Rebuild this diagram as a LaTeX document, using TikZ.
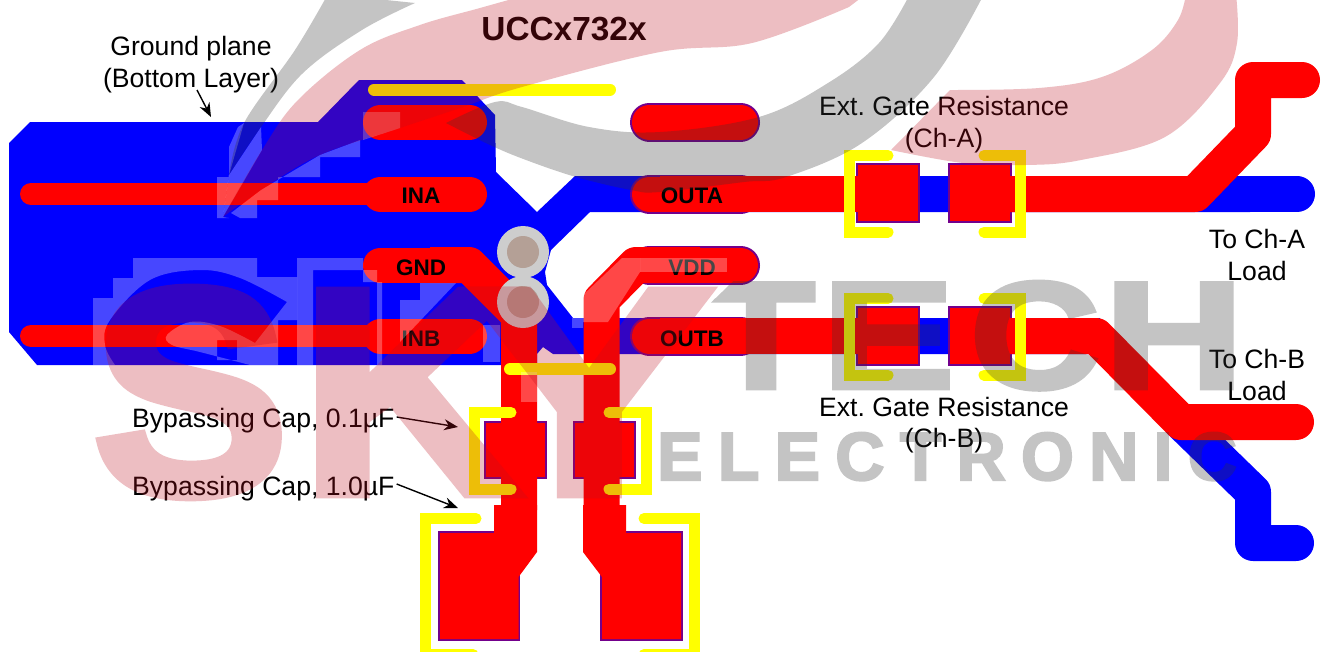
\documentclass[tikz,border=0pt]{standalone}
\usepackage{fontspec}
\setmainfont{Liberation Sans}
\newfontfamily\wmb[FakeBold=3]{Liberation Sans Bold}
\usetikzlibrary{arrows.meta}
\definecolor{cu}{RGB}{255,0,0}
\definecolor{gnd}{RGB}{0,0,255}
\definecolor{padedge}{RGB}{115,0,140}
\definecolor{silk}{RGB}{255,255,0}
\definecolor{wmpink}{RGB}{190,15,30}
\definecolor{wmgray}{RGB}{52,52,52}
\definecolor{viaring}{RGB}{205,205,205}
\definecolor{viahole}{RGB}{180,160,150}
\tikzset{
  lbl/.style={inner sep=0pt,anchor=base,text=black,font=\frenchspacing\fontsize{26.6}{32}\selectfont},
  pin/.style={inner sep=0pt,anchor=base,text=black,font=\fontsize{22.5}{26}\selectfont\bfseries},
  redtrace/.style={draw=cu,line width=36pt,line join=round,line cap=butt},
  bluetrace/.style={draw=gnd,line width=36pt,line join=round,line cap=round},
  roundtrace/.style={redtrace,line cap=round},
  padrect/.style={fill=cu,draw=padedge,line width=2pt},
  silkline/.style={draw=silk,line width=11pt,line cap=round,line join=miter},
  ledge/.style={-{Stealth[length=14pt,width=11pt]},line width=1.4pt,draw=black},
  halo/.style={fill=white,fill opacity=.28,even odd rule},
  wmp/.style={fill=wmpink,fill opacity=.27},
  wmg/.style={fill=wmgray,fill opacity=.29},
  wmletter/.style={inner sep=0pt,anchor=base west,transform shape},
}
\newcommand{\toppad}[1]{%
  \draw[line width=39pt,line cap=round,draw=padedge] (649.5,#1) -- (740.5,#1);
  \draw[line width=35pt,line cap=round,draw=cu] (649.5,#1) -- (740.5,#1);}
\newcommand{\lefttoppad}[1]{%
  \draw[line width=35pt,line cap=round,draw=cu] (380.5,#1) -- (469.5,#1);}
\begin{document}
\begin{tikzpicture}[x=1pt,y=-1pt]
\useasboundingbox (0,0) rectangle (1321,651);
\clip (0,0) rectangle (1321,651);
\fill[white] (0,0) rectangle (1321,651);
% ground plane (bottom layer)
\fill[gnd] (9,143) -- (30,122) -- (318,122) -- (359,80) -- (462,80) -- (495,115) -- (496,172)
  -- (537,212) -- (575,176) -- (1250,176) -- (1250,212) -- (590,212) -- (551,250) -- (545,272)
  -- (547,285) -- (573,318) -- (1100,318) -- (1100,354) -- (553,354) -- (543,347) -- (537,354)
  -- (537,365) -- (37,365) -- (9,332) -- cycle;
\draw[bluetrace] (1200,194) -- (1297,194);
\draw[bluetrace] (1181,422) -- (1253,492) -- (1253,543) -- (1296,543);
% component pads
\draw[padrect] (857,164) rectangle (919,222);
\draw[padrect] (949,164) rectangle (1011,222);
\draw[padrect] (857,307) rectangle (919,365);
\draw[padrect] (949,307) rectangle (1011,365);
\draw[padrect] (485,422) rectangle (546,478);
\draw[padrect] (574,422) rectangle (635,478);
\draw[padrect] (439,532) rectangle (519,640);
\draw[padrect] (601,532) rectangle (682,640);
% top pads
\lefttoppad{122}\lefttoppad{194}\lefttoppad{265}\lefttoppad{336}
\toppad{122}\toppad{194}\toppad{265}\toppad{336}
% top-layer traces
\draw[draw=cu,line width=22pt,line cap=round] (31,194) -- (381,194);
\draw[draw=cu,line width=22pt,line cap=round] (31,336) -- (381,336);
\draw[redtrace] (660,194) -- (917,194);
\draw[roundtrace] (968,194) -- (1195,194) -- (1253,134) -- (1253,80) -- (1302,80);
\draw[redtrace] (660,336) -- (917,336);
\draw[roundtrace] (968,336) -- (1096,336) -- (1181,422) -- (1296,422);
\draw[redtrace] (430,265) -- (469,265) -- (519,315) -- (519,510);
\draw[redtrace] (601.5,510) -- (601.5,300) -- (636,265) -- (700,265);
\fill[cu] (494,505) -- (537,505) -- (537,552) -- (518.5,577) -- (518.5,639) -- (440,639) -- (440,533) -- (494,533) -- cycle;
\fill[cu] (583,505) -- (626,505) -- (626,533) -- (681,533) -- (681,639) -- (602,639) -- (602,577) -- (583,552) -- cycle;
\fill[cu] (486,423) rectangle (545,477);
\fill[cu] (575,423) rectangle (634,477);
\fill[cu] (858,165) rectangle (917,221);
\fill[cu] (950,165) rectangle (1010,221);
\fill[cu] (858,308) rectangle (917,364);
\fill[cu] (950,308) rectangle (1010,364);
% vias
\fill[viaring] (523,252) circle[radius=26];
\fill[viaring] (523,302) circle[radius=26];
\fill[viahole] (523,252) circle[radius=16];
\fill[viahole] (523,302) circle[radius=16];
% silkscreen
\draw[silkline,line width=12pt] (374,89.5) -- (610,89.5);
\draw[silkline,line width=12pt] (510,369) -- (610,369);
\draw[silkline] (888,155.5) -- (849.5,155.5) -- (849.5,232) -- (888,232);
\draw[silkline] (984,155.5) -- (1020,155.5) -- (1020,232) -- (984,232);
\draw[silkline] (888,298.5) -- (849.5,298.5) -- (849.5,375) -- (888,375);
\draw[silkline] (984,298.5) -- (1020,298.5) -- (1020,375) -- (984,375);
\draw[silkline] (511,412.5) -- (474.5,412.5) -- (474.5,489) -- (511,489);
\draw[silkline] (609,412.5) -- (646,412.5) -- (646,489) -- (609,489);
\draw[silkline] (476,518.5) -- (425.5,518.5) -- (425.5,654.5) -- (473,654.5);
\draw[silkline] (644,518.5) -- (694.5,518.5) -- (694.5,654.5) -- (644,654.5);
% texts
\node[inner sep=0pt,anchor=base,text=black,font=\fontsize{33.4}{36}\selectfont\bfseries] (title) at (564,40) {UCCx732x};
\node[lbl] (gp1) at (191,55) {Ground plane};
\node[lbl] (gp2) at (191,87) {(Bottom Layer)};
\node[lbl] (ra1) at (944,115) {Ext. Gate Resistance};
\node[lbl] (ra2) at (944,147) {(Ch-A)};
\node[lbl] (rb1) at (944,416) {Ext. Gate Resistance};
\node[lbl] (rb2) at (944,447) {(Ch-B)};
\node[lbl] (la1) at (1257,248) {To Ch-A};
\node[lbl] (la2) at (1257,280) {Load};
\node[lbl] (lb1) at (1257,368) {To Ch-B};
\node[lbl] (lb2) at (1257,400) {Load};
\node[lbl,anchor=base west] (c1) at (132,427) {Bypassing Cap, 0.1µF};
\node[lbl,anchor=base west] (c2) at (132,495) {Bypassing Cap, 1.0µF};
\node[pin] (ina) at (421,203) {INA};
\node[pin] (gndp) at (421,275) {GND};
\node[pin] (inb) at (421,346) {INB};
\node[pin] (outa) at (692,203) {OUTA};
\node[pin] (vdd) at (692,275) {VDD};
\node[pin] (outb) at (692,346) {OUTB};
\coordinate (gpt) at (211,117);
\coordinate (c1t) at (458,427);
\coordinate (c2t) at (458,508);
\draw[ledge] (197,90) -- (gpt);
\draw[ledge] (c1.base east) ++(2,-10) -- (c1t);
\draw[ledge] (c2.base east) ++(2,-11) -- (c2t);
% lighter halo left around the watermark on the copper
\fill[halo] (93,365) -- (93,298) -- (113,298) -- (113,278) -- (133,278) -- (133,258) -- (257,258) -- (257,277)
  -- (297,277) -- (297,320) -- (278,320) -- (278,365) -- cycle
  plot[smooth,tension=.6] coordinates {(287,302) (240,278) (200,270) (150,280) (110,320) (105,345) (115,365)} -- (250,365)
  -- plot[smooth,tension=.6] coordinates {(250,365) (200,352) (172,345) (167,335) (190,322) (220,326) (255,343)} -- cycle
  (217,340) rectangle (237,360);
\fill[halo] (297,258) -- (363,258) -- (363,282) -- (382,282) -- (382,365) -- (297,365) -- cycle
  (313,270) rectangle (377,365);
\fill[halo] (400,300) -- (420,300) -- (420,283) -- (456,283) -- (400,342) -- cycle;
\fill[halo] (483,325) rectangle (500,362);
\fill[halo] (521,372) rectangle (537,402);
\fill[halo] (640,258) rectangle (727,272);
\fill[halo] (622,258) -- (640,258) -- (640,272) -- (608,322) -- (583,322) -- (583,295) -- cycle;
\fill[halo] (572,318) rectangle (583,328);
\fill[halo] (231,213) -- (261,190) -- (320,155) -- (360,140) -- (360,157) -- (320,157) -- (320,177) -- (278,177)
  -- (278,200) -- (257,200) -- (257,218) -- (240,218) -- cycle;
\fill[halo] (217,218) -- (217,177) -- (229,177) -- (229,147) -- (238,127) -- (244,123) -- (229,175) -- (223,217) -- (229,218) -- cycle;
\fill[halo] (229,175) -- (261,127) -- (262,150) -- (223,217) -- cycle;
\fill[halo] (363,112) -- (400,112) -- (400,128) -- (363,140) -- cycle;
% watermark
\fill[wmp] plot[smooth,tension=.6] coordinates {(223,217) (262,150) (298,100) (360,50) (420,25) (480,8) (530,-6)}
  -- (866,-6) -- plot[smooth,tension=.6] coordinates {(849,7) (752,43) (660,52) (522,87) (463,107) (400,128) (320,155) (261,190) (223,217)} -- cycle;
\fill[wmp] (891,150) -- (950,90) -- plot[smooth,tension=.6] coordinates {(950,90) (1039,88) (1102,77) (1152,50) (1178,20) (1186,-6)}
  -- (1236,-6) -- plot[smooth,tension=.6] coordinates {(1236,-6) (1237,43) (1220,83) (1165,137) (1081,160) (1026,165) (963,163) (891,150)} -- cycle;
\fill[wmg] plot[smooth,tension=.6] coordinates {(229,175) (244,123) (295,50) (328,-6)}
  -- (415,3) -- plot[smooth,tension=.6] coordinates {(415,3) (362,30) (303,73) (261,127) (229,175)} -- cycle;
\fill[wmg] plot[smooth,tension=.6] coordinates {(446,123) (495,102) (522,107) (589,127) (660,132) (759,117) (828,83) (879,43) (910,-6)}
  -- (984,-6) -- plot[smooth,tension=.6] coordinates {(984,-6) (934,77) (862,143) (786,177) (744,182) (660,192) (631,190) (576,177) (526,160) (490,145) (446,123)} -- cycle;
\begin{scope}[transparency group,opacity=.27]
\node[wmletter,text=wmpink,font=\wmb\fontsize{295}{295}\selectfont] (wS) at (92,494) {S};
\node[wmletter,text=wmpink,font=\wmb\fontsize{295}{295}\selectfont,xscale=1.04] (wK) at (300,494) {K};
\node[wmletter,text=wmpink,font=\wmb\fontsize{295}{295}\selectfont,xscale=1.27] (wY) at (464,494) {Y};
\end{scope}
\begin{scope}[transparency group,opacity=.29]
\begin{scope}
\clip (750,265) -- (695,318) -- (700,400) -- (825,400) -- (825,265) -- cycle;
\node[wmletter,text=wmgray,font=\wmb\fontsize{152}{152}\selectfont,xscale=1.16] (wT) at (707,388) {T};
\end{scope}
\node[wmletter,text=wmgray,font=\wmb\fontsize{152}{152}\selectfont,xscale=1.31] (wE) at (821.6,388) {E};
\node[wmletter,text=wmgray,font=\wmb\fontsize{152}{152}\selectfont,xscale=1.18] (wC) at (970,388) {C};
\node[wmletter,text=wmgray,font=\wmb\fontsize{152}{152}\selectfont,xscale=1.27] (wH) at (1104,388) {H};
\node[wmletter,text=wmgray,font=\wmb\fontsize{68}{68}\selectfont\addfontfeature{LetterSpace=22.5}] (wel) at (657,480) {ELECTRONIC};
\end{scope}
\end{tikzpicture}
\end{document}
